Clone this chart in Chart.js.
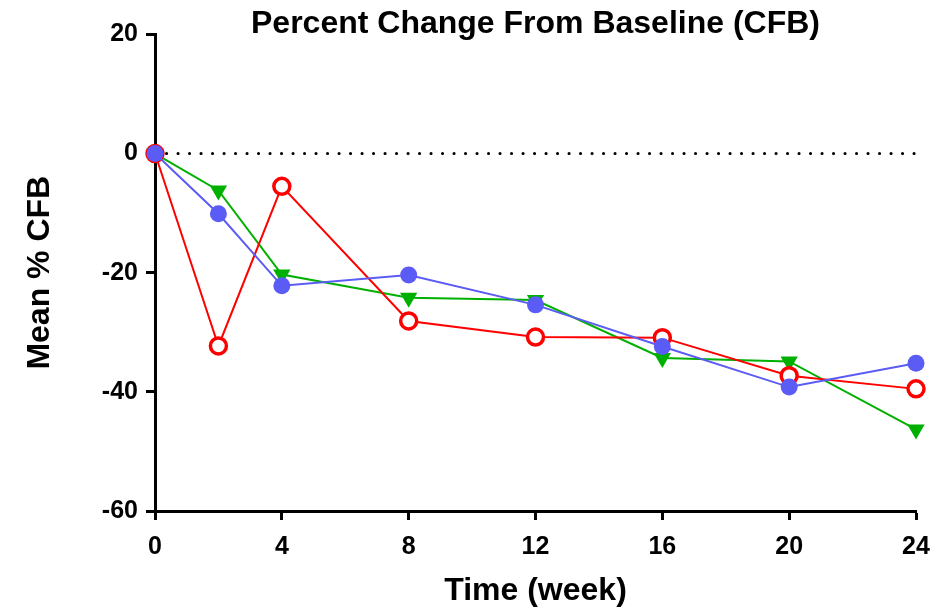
<!DOCTYPE html>
<html>
<head>
<meta charset="utf-8">
<script src="https://cdn.jsdelivr.net/npm/chart.js@4/dist/chart.umd.min.js"></script>
<style>
  html, body { margin: 0; padding: 0; background: #fff; }
  #wrap { width: 948px; height: 610px; }
</style>
</head>
<body>
<div id="wrap"><canvas id="chart"></canvas></div>
<script>
const weeks = [0, 2, 4, 8, 12, 16, 20, 24];
const blueCfb = [0, -10.1, -22.2, -20.4, -25.4, -32.4, -39.2, -35.2];
const redCfb = [0, -32.3, -5.5, -28.1, -30.8, -30.9, -37.3, -39.5];
const greenCfb = [0, -6.2, -20.3, -24.2, -24.6, -34.3, -34.9, -46.3];
const xTicks = [0, 4, 8, 12, 16, 20, 24];
const yTicks = [-60, -40, -20, 0, 20];

const pts = (ys) => weeks.map((w, i) => ({ x: w, y: ys[i] }));
const FONT = "'Liberation Sans', Arial, sans-serif";

new Chart(document.getElementById("chart"), {
  type: "line",
  data: {
    datasets: [
      {
        label: "blue",
        data: pts(blueCfb),
        borderColor: "#5b5bf5",
        backgroundColor: "#5b5bf5",
        borderWidth: 2,
        pointStyle: "circle",
        pointRadius: 8.5,
        pointBorderWidth: 0,
        clip: false,
      },
      {
        label: "red",
        data: pts(redCfb),
        borderColor: "#ff0000",
        backgroundColor: "#ffffff",
        borderWidth: 2,
        pointStyle: "circle",
        pointRadius: 8,
        pointBorderWidth: 3.5,
        clip: false,
      },
      {
        label: "green",
        data: pts(greenCfb),
        borderColor: "#00b000",
        backgroundColor: "#00b000",
        borderWidth: 2,
        pointStyle: "triangle",
        pointRotation: 180,
        pointRadius: 10,
        pointBorderWidth: 0,
        clip: false,
      },
      {
        label: "baseline",
        data: [{ x: 0, y: 0 }, { x: 24, y: 0 }],
        borderColor: "#000",
        borderWidth: 3,
        borderDash: [0.1, 11.4],
        borderCapStyle: "round",
        pointRadius: 0,
        order: 10,
      },
    ],
  },
  options: {
    responsive: true,
    maintainAspectRatio: false,
    animation: false,
    layout: { padding: { left: 21, right: 32, top: 0, bottom: 0 } },
    plugins: {
      legend: { display: false },
      tooltip: { enabled: false },
      title: {
        display: true,
        fullSize: false,
        text: "Percent Change From Baseline (CFB)",
        color: "#000",
        font: { family: FONT, size: 32, weight: "bold" },
        padding: { top: 5, bottom: -9 },
      },
    },
    scales: {
      x: {
        type: "linear",
        min: 0,
        max: 24,
        afterBuildTicks: (s) => { s.ticks = xTicks.map((v) => ({ value: v })); },
        afterFit: (s) => { s.height = 99; },
        border: { display: true, color: "#000", width: 3 },
        grid: { drawOnChartArea: false, drawTicks: true, tickLength: 9, tickWidth: 3, tickColor: "#000" },
        ticks: { color: "#000", padding: 12, font: { family: FONT, size: 25, weight: "bold" } },
        title: {
          display: true,
          text: "Time (week)",
          color: "#000",
          font: { family: FONT, size: 32, weight: "bold" },
          padding: { top: 0, bottom: 0 },
        },
      },
      y: {
        type: "linear",
        min: -60,
        max: 20,
        afterBuildTicks: (s) => { s.ticks = yTicks.map((v) => ({ value: v })); },
        afterFit: (s) => { s.width = 134; },
        border: { display: true, color: "#000", width: 3 },
        grid: { drawOnChartArea: false, drawTicks: true, tickLength: 9, tickWidth: 3, tickColor: "#000" },
        ticks: { color: "#000", padding: 8, font: { family: FONT, size: 25, weight: "bold" } },
        title: {
          display: true,
          text: "Mean % CFB",
          color: "#000",
          font: { family: FONT, size: 32, weight: "bold" },
          padding: { top: 0, bottom: 0 },
        },
      },
    },
  },
});
</script>
</body>
</html>
